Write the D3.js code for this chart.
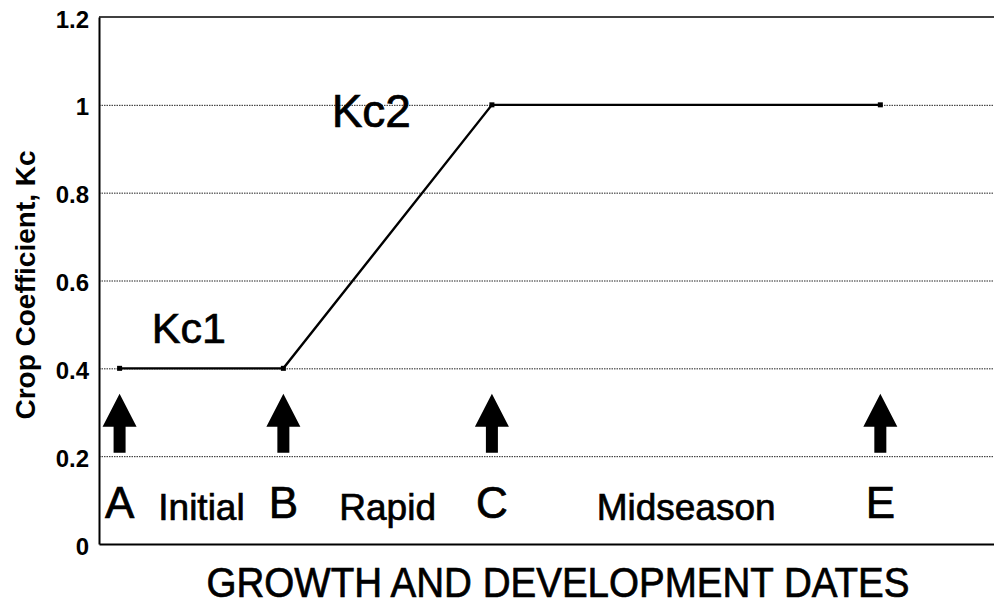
<!DOCTYPE html>
<html>
<head>
<meta charset="utf-8">
<script src="https://cdn.jsdelivr.net/npm/d3@7"></script>
<style>
  body { margin: 0; background: #fff; }
  text { font-family: "Liberation Sans", Arial, Helvetica, sans-serif; fill: #000; }
  .heavy { stroke: #000; stroke-width: 0.7; }
</style>
</head>
<body>
<svg id="chart" width="994" height="608"></svg>
<script>
// growth stage dates (relative position along the season) and Kc values
var stages = ["A", "B", "C", "E"];
var stageDates = [2.3, 20.6, 43.9, 87.3];
var kcValues = [0.4, 0.4, 1.0, 1.0];

// periods between stages
var periods = ["Initial", "Rapid", "Midseason"];

// curve labels
var curveLabels = ["Kc1", "Kc2"];
var curveLabelX = [5.9, 26.0];
var curveLabelY = [0.458, 0.95];

var yTicks = [0, 0.2, 0.4, 0.6, 0.8, 1, 1.2];
var yTickLabels = ["0", "0.2", "0.4", "0.6", "0.8", "1", "1.2"];

var svg = d3.select("#chart");
var padding = {left: 99, top: 17, right: 0, bottom: 64};
var W = 994, H = 608;
var plotW = W - padding.left - padding.right;
var plotH = H - padding.top - padding.bottom;

var x = d3.scaleLinear().domain([0, 100]).range([0, plotW]);
var y = d3.scaleLinear().domain([0, 1.2]).range([plotH, 0]);

var g = svg.append("g")
    .attr("transform", "translate(" + padding.left + "," + padding.top + ")");

// dotted gridlines
var grid = d3.axisLeft(y)
    .tickValues([0.2, 0.4, 0.6, 0.8, 1])
    .tickSize(-plotW)
    .tickFormat("");
g.append("g")
    .attr("class", "grid")
    .call(grid)
    .call(function(s){
        s.select(".domain").remove();
        s.selectAll("line")
            .attr("stroke", "#222")
            .attr("stroke-width", 1)
            .attr("stroke-dasharray", "1.5,1");
    });

// y axis
var yAxis = d3.axisLeft(y)
    .tickValues(yTicks)
    .tickSize(0)
    .tickPadding(10)
    .tickFormat(function(d, i){ return yTickLabels[i]; });
g.append("g")
    .call(yAxis)
    .call(function(s){
        s.select(".domain").attr("stroke", "#000").attr("stroke-width", 2);
        s.selectAll("text")
            .attr("font-size", 24)
            .attr("font-weight", "bold")
            .attr("dy", "0.42em")
            .attr("font-family", "Liberation Sans, Arial, sans-serif");
    });

// x axis (bottom line, no ticks)
var xAxis = d3.axisBottom(x).tickValues([]).tickSizeOuter(0);
g.append("g")
    .attr("transform", "translate(0," + plotH + ")")
    .call(xAxis)
    .select(".domain").attr("stroke", "#000").attr("stroke-width", 2);

// top border
g.append("line")
    .attr("x1", 0).attr("x2", plotW)
    .attr("y1", y(1.2)).attr("y2", y(1.2))
    .attr("stroke", "#000").attr("stroke-width", 1.6);

// Kc curve
var pts = stageDates.map(function(d, i){ return [d, kcValues[i]]; });
var line = d3.line()
    .x(function(d){ return x(d[0]); })
    .y(function(d){ return y(d[1]); });
g.append("path")
    .datum(pts)
    .attr("d", line)
    .attr("fill", "none")
    .attr("stroke", "#000")
    .attr("stroke-width", 2.4);
g.selectAll(".pt")
    .data(pts)
    .enter().append("rect")
    .attr("class", "pt")
    .attr("x", function(d){ return x(d[0]) - 2.5; })
    .attr("y", function(d){ return y(d[1]) - 2.5; })
    .attr("width", 5).attr("height", 5)
    .attr("fill", "#000");

// curve labels
g.selectAll(".kc")
    .data(curveLabels)
    .enter().append("text")
    .attr("class", "kc heavy")
    .attr("x", function(d, i){ return x(curveLabelX[i]); })
    .attr("y", function(d, i){ return y(curveLabelY[i]); })
    .attr("font-size", function(d, i){ return i == 0 ? 43 : 46; })
    .text(function(d){ return d; });

// arrows at stage dates
var arrowTip = 0.342, arrowBase = 0.208;
var headW = 34, headH = 33, shaftW = 12;
g.selectAll(".arrow")
    .data(stageDates)
    .enter().append("path")
    .attr("class", "arrow")
    .attr("transform", function(d){ return "translate(" + x(d) + "," + y(arrowTip) + ")"; })
    .attr("d", function(){
        var len = y(arrowBase) - y(arrowTip);
        return "M0,0 L" + (headW / 2) + "," + headH +
            " L" + (shaftW / 2) + "," + headH +
            " L" + (shaftW / 2) + "," + len +
            " L" + (-shaftW / 2) + "," + len +
            " L" + (-shaftW / 2) + "," + headH +
            " L" + (-headW / 2) + "," + headH + " Z";
    })
    .attr("fill", "#000");

// stage letters
var labelY = 0.06;
g.selectAll(".stage")
    .data(stages)
    .enter().append("text")
    .attr("class", "stage heavy")
    .attr("x", function(d, i){ return x(stageDates[i]); })
    .attr("y", y(labelY))
    .attr("text-anchor", "middle")
    .attr("font-size", 44)
    .text(function(d){ return d; });

// period names, midway between stages
g.selectAll(".period")
    .data(periods)
    .enter().append("text")
    .attr("class", "period heavy")
    .attr("x", function(d, i){ return x((stageDates[i] + stageDates[i + 1]) / 2); })
    .attr("y", y(labelY) + 2)
    .attr("text-anchor", "middle")
    .attr("font-size", 37)
    .text(function(d){ return d; });

// axis titles
svg.append("text")
    .attr("class", "heavy")
    .attr("x", 558)
    .attr("y", 597)
    .attr("text-anchor", "middle")
    .attr("font-size", 42)
    .attr("textLength", 703)
    .attr("lengthAdjust", "spacingAndGlyphs")
    .text("GROWTH AND DEVELOPMENT DATES");

svg.append("text")
    .attr("transform", "translate(35,285) rotate(-90)")
    .attr("text-anchor", "middle")
    .attr("font-size", 28)
    .attr("font-weight", "bold")
    .text("Crop Coefficient, Kc");
</script>
</body>
</html>
